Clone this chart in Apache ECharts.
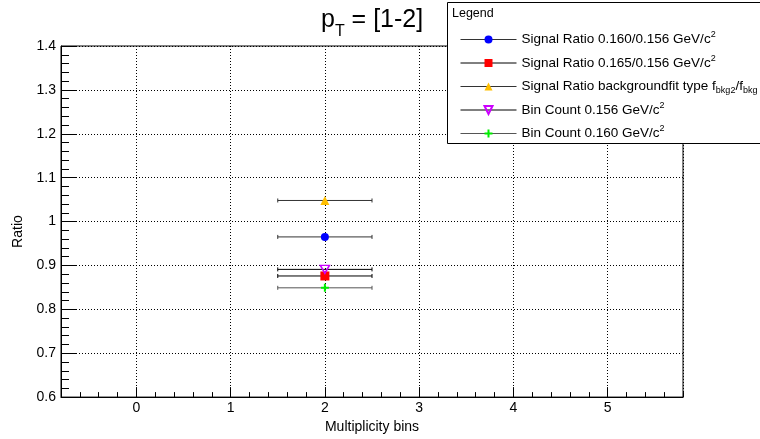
<!DOCTYPE html>
<html><head><meta charset="utf-8">
<script src="https://cdn.jsdelivr.net/npm/echarts@6/dist/echarts.min.js"></script>
<style>html,body{margin:0;padding:0;background:#fff}#c{width:760px;height:439px}</style>
</head><body><div id="c"></div>
<script>
// ---- data ----
const seriesNames = [
  'Signal Ratio 0.160/0.156 GeV/c2',
  'Signal Ratio 0.165/0.156 GeV/c2',
  'Signal Ratio backgroundfit type fbkg2/fbkg',
  'Bin Count 0.156 GeV/c2',
  'Bin Count 0.160 GeV/c2'
];
const legendLabels = [
  'Signal Ratio 0.160/0.156 GeV/c{sup|2}',
  'Signal Ratio 0.165/0.156 GeV/c{sup|2}',
  'Signal Ratio backgroundfit type f{sub|bkg2}/f{sub|bkg}',
  'Bin Count 0.156 GeV/c{sup|2}',
  'Bin Count 0.160 GeV/c{sup|2}'
];
const multBins = [2];
const binHalfWidth = [0.5];
const sigRatio160 = [0.965];
const sigRatio165 = [0.876];
const sigRatioBkgFit = [1.048];
const binCount156 = [0.891];
const binCount160 = [0.849];
const allValues = [sigRatio160, sigRatio165, sigRatioBkgFit, binCount156, binCount160];

// ---- styles ----
const FONT = "'Liberation Sans', Arial, sans-serif";
const markerColors = ['#0000ff', '#ff0000', '#ffbf00', '#cc00ff', '#00ee00'];
const barColors = ['#333333', '#000000', '#333333', '#000000', '#555555'];
const symbols = [
  'circle',
  'rect',
  'triangle',
  'path://M0,0 L10,0 L5,9 Z',
  'path://M3,0 H5 V3 H8 V5 H5 V8 H3 V5 H0 V3 H3 Z'
];
const symbolSizes = [8, 9, 9, [9, 8], 8];

const errData = [];
allValues.forEach((arr, s) => arr.forEach((v, i) => errData.push([multBins[i], v, binHalfWidth[i], s])));

const series = [{
  type: 'custom',
  name: 'errorbars',
  silent: true,
  z: 1,
  encode: { x: 0, y: 1 },
  data: errData,
  renderItem(params, api) {
    const x = api.value(0), y = api.value(1), e = api.value(2), s = api.value(3);
    const p1 = api.coord([x - e, y]);
    const p2 = api.coord([x + e, y]);
    const st = { stroke: barColors[s], lineWidth: 1 };
    return { type: 'group', children: [
      { type: 'line', shape: { x1: p1[0], y1: p1[1], x2: p2[0], y2: p2[1] }, style: st },
      { type: 'line', shape: { x1: p1[0], y1: p1[1] - 2, x2: p1[0], y2: p1[1] + 2 }, style: st },
      { type: 'line', shape: { x1: p2[0], y1: p2[1] - 2, x2: p2[0], y2: p2[1] + 2 }, style: st }
    ]};
  }
}];
allValues.forEach((arr, s) => {
  series.push({
    type: 'line',
    name: seriesNames[s],
    z: 3,
    symbol: symbols[s],
    symbolSize: symbolSizes[s],
    showAllSymbol: true,
    lineStyle: { color: barColors[s], width: 1 },
    itemStyle: s === 3
      ? { color: 'rgba(255,255,255,0)', borderColor: markerColors[s], borderWidth: 1.5 }
      : { color: markerColors[s], borderWidth: 0 },
    data: arr.map((v, i) => [multBins[i], v])
  });
});

const chart = echarts.init(document.getElementById('c'), null, { renderer: 'canvas' });
const dotted = { color: '#000', width: 1, type: [1, 2] };
chart.setOption({
  animation: false,
  backgroundColor: '#fff',
  title: {
    text: '{m|p}{t|T}{m| = [1-2]}',
    left: 316, top: 0,
    textStyle: {
      fontWeight: 'normal',
      rich: {
        m: { fontFamily: FONT, fontSize: 25, fontWeight: 'normal', lineHeight: 30, color: '#000' },
        t: { fontFamily: FONT, fontSize: 16, fontWeight: 'normal', lineHeight: 16, color: '#000', verticalAlign: 'bottom', padding: [0, 0, -5, 0] }
      }
    }
  },
  grid: { left: 61, top: 46, right: 77, bottom: 41, show: true, borderColor: '#000', borderWidth: 1 },
  xAxis: [{
    type: 'value', min: -0.8, max: 5.8, splitNumber: 6,
    name: 'Multiplicity bins', nameLocation: 'middle', nameGap: 17,
    nameTextStyle: { fontFamily: FONT, fontSize: 14, color: '#000' },
    axisLine: { onZero: false, lineStyle: { color: '#000', width: 1 } },
    axisTick: { inside: true, length: 10, lineStyle: { color: '#000' } },
    axisLabel: { showMinLabel: false, showMaxLabel: false, margin: 4, fontFamily: FONT, fontSize: 14, color: '#000' },
    splitLine: { show: true, lineStyle: dotted }
  }, {
    type: 'value', min: -0.8, max: 5.8, interval: 0.2, position: 'bottom',
    axisLine: { show: false, onZero: false },
    axisTick: { inside: true, length: 5, lineStyle: { color: '#000' } },
    axisLabel: { show: false },
    splitLine: { show: false }
  }],
  yAxis: {
    type: 'value', min: 0.6, max: 1.4, interval: 0.1,
    name: 'Ratio', nameLocation: 'middle', nameGap: 36,
    nameTextStyle: { fontFamily: FONT, fontSize: 14, color: '#000', padding: [0, 20, 0, 0] },
    axisLine: { onZero: false, lineStyle: { color: '#000', width: 1 } },
    axisTick: { inside: true, length: 16, lineStyle: { color: '#000' } },
    minorTick: { show: true, splitNumber: 5, length: 8, lineStyle: { color: '#000' } },
    axisLabel: { margin: 5, fontFamily: FONT, fontSize: 14, color: '#000',
      formatter: v => String(Number(v.toFixed(2))) },
    splitLine: { show: true, lineStyle: dotted }
  },
  graphic: [
    { type: 'rect', z: 50, shape: { x: 447.5, y: 2.5, width: 330, height: 141 },
      style: { fill: '#fff', stroke: '#000', lineWidth: 1 } },
    { type: 'text', z: 51, x: 452, y: 14,
      style: { text: 'Legend', fontFamily: FONT, fontSize: 12.5, fill: '#000', verticalAlign: 'middle' } }
  ],
  legend: {
    z: 60,
    orient: 'vertical', left: 455, top: 25.5,
    itemWidth: 56, itemHeight: 10, itemGap: 5.5,
    data: seriesNames,
    lineStyle: { width: 1 },
    formatter: name => legendLabels[seriesNames.indexOf(name)],
    textStyle: {
      fontFamily: FONT, fontSize: 13.5, lineHeight: 18, color: '#000',
      rich: {
        sup: { fontFamily: FONT, fontSize: 9, lineHeight: 9, verticalAlign: 'top', color: '#000' },
        sub: { fontFamily: FONT, fontSize: 9, lineHeight: 9, verticalAlign: 'bottom', color: '#000' }
      }
    }
  },
  series
});
</script></body></html>
